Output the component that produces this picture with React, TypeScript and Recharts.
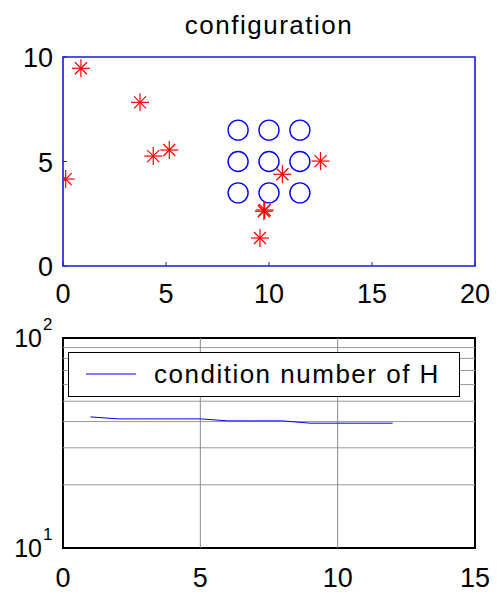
import React from 'react'
import {
  ScatterChart,
  Scatter,
  LineChart,
  Line,
  XAxis,
  YAxis,
  ReferenceArea,
  ReferenceLine,
  Legend,
} from 'recharts'

// configuration: sensors (stars) and grid targets (circles)
const starX = [0.13, 0.87, 3.74, 4.38, 5.16, 12.5, 10.65, 9.75, 9.79, 9.56]
const starY = [4.16, 9.46, 7.83, 5.26, 5.55, 5.02, 4.39, 2.62, 2.68, 1.34]
const circleX = [8.5, 10, 11.5, 8.5, 10, 11.5, 8.5, 10, 11.5]
const circleY = [6.5, 6.5, 6.5, 5, 5, 5, 3.5, 3.5, 3.5]
const topXTicks = [0, 5, 10, 15, 20]
const topYTicks = [0, 5, 10]

// condition number per iteration
const iterations = [1, 2, 3, 4, 5, 6, 7, 8, 9, 10, 11, 12]
const condNumber = [42.1, 41.2, 41.2, 41.2, 41.2, 40.3, 40.3, 40.3, 39.3, 39.3, 39.3, 39.3]
const bottomXTicks = [0, 5, 10, 15]
const bottomYTicks = [10, 100]
const minorY = [20, 30, 40, 50, 60, 70, 80, 90]

const FONT = '"Liberation Sans", Arial, Helvetica, sans-serif'
const BLUE_BOX = '#1a1ad8'

const stars = starX.map((x, i) => ({ x, y: starY[i] }))
const circles = circleX.map((x, i) => ({ x, y: circleY[i] }))
const condData = iterations.map((it, i) => ({ it, cond: condNumber[i] }))

const Star = (p: any) => {
  const { cx, cy } = p
  const r = 9
  const d = 6
  return (
    <g stroke="#ff0000" strokeWidth={1.2}>
      <line x1={cx - r} x2={cx + r} y1={cy} y2={cy} />
      <line x1={cx} x2={cx} y1={cy - r} y2={cy + r} />
      <line x1={cx - d} x2={cx + d} y1={cy - d} y2={cy + d} />
      <line x1={cx - d} x2={cx + d} y1={cy + d} y2={cy - d} />
    </g>
  )
}

const Ring = (p: any) => <circle cx={p.cx} cy={p.cy} r={10} fill="none" stroke="#0000ff" strokeWidth={1.4} />

const TopXTick = (p: any) => (
  <g>
    <line x1={p.x} x2={p.x} y1={p.y} y2={p.y - 4} stroke={BLUE_BOX} />
    <text x={p.x} y={p.y + 37} textAnchor="middle" fontSize={27} fontFamily={FONT} fill="#000">
      {p.payload.value}
    </text>
  </g>
)

const TopYTick = (p: any) => (
  <g>
    <line x1={p.x} x2={p.x + 4} y1={p.y} y2={p.y} stroke={BLUE_BOX} />
    <text x={p.x - 10} y={p.y + 10} textAnchor="end" fontSize={27} fontFamily={FONT} fill="#000">
      {p.payload.value}
    </text>
  </g>
)

const BottomXTick = (p: any) => (
  <text x={p.x} y={p.y + 39} textAnchor="middle" fontSize={27} fontFamily={FONT} fill="#000">
    {p.payload.value}
  </text>
)

const BottomYTick = (p: any) => {
  const exp = Math.round(Math.log10(p.payload.value))
  return (
    <g fontFamily={FONT} fill="#000">
      <text x={p.x - 21} y={p.y + 9} textAnchor="end" fontSize={25}>
        10
      </text>
      <text x={p.x - 20} y={p.y - 8} fontSize={17}>
        {exp}
      </text>
    </g>
  )
}

const LegendBox = (props: any) => {
  const item = props.payload?.[0]
  return (
    <div
      style={{
        width: 392,
        height: 45,
        boxSizing: 'border-box',
        border: '1.5px solid #000',
        background: '#fff',
      }}
    >
      <svg width={390} height={42} style={{ display: 'block' }}>
        <line x1={17} x2={67} y1={21} y2={21} stroke={item?.color ?? '#0000ff'} strokeWidth={1} />
        <text x={85} y={30} fontSize={26} letterSpacing={1.5} fontFamily={FONT} fill="#000">
          {item?.value}
        </text>
      </svg>
    </div>
  )
}

export default function App() {
  return (
    <div style={{ position: 'absolute', left: 0, top: 0, width: 499, height: 597, background: '#fff' }}>
      <svg width={499} height={50} style={{ position: 'absolute', left: 0, top: 0 }}>
        <text x={269} y={34} textAnchor="middle" fontSize={26} letterSpacing={1.5} fontFamily={FONT} fill="#000">
          configuration
        </text>
      </svg>

      <div style={{ position: 'absolute', left: 0, top: 0 }}>
        <ScatterChart width={499} height={318} margin={{ top: 57, right: 24, bottom: 22, left: 13 }}>
          <XAxis
            type="number"
            dataKey="x"
            domain={[0, 20]}
            ticks={topXTicks}
            height={30}
            axisLine={false}
            tickLine={false}
            tickSize={0}
            tickMargin={0}
            tick={TopXTick}
            interval={0}
            allowDataOverflow
          />
          <YAxis
            type="number"
            dataKey="y"
            domain={[0, 10]}
            ticks={topYTicks}
            width={50}
            axisLine={false}
            tickLine={false}
            tickSize={0}
            tickMargin={0}
            tick={TopYTick}
            interval={0}
            allowDataOverflow
          />
          <ReferenceArea x1={0} x2={20} y1={0} y2={10} fill="none" stroke={BLUE_BOX} strokeWidth={1.6} ifOverflow="visible" />
          <Scatter data={circles} shape={Ring} isAnimationActive={false} />
          <Scatter data={stars} shape={Star} isAnimationActive={false} />
        </ScatterChart>
      </div>

      <div style={{ position: 'absolute', left: 0, top: 300 }}>
        <LineChart width={499} height={297} data={condData} margin={{ top: 38, right: 24, bottom: 9, left: 8 }}>
          <XAxis
            type="number"
            dataKey="it"
            domain={[0, 15]}
            ticks={bottomXTicks}
            height={40}
            axisLine={false}
            tickLine={false}
            tickSize={0}
            tickMargin={0}
            tick={BottomXTick}
            interval={0}
            allowDataOverflow
          />
          <YAxis
            type="number"
            scale="log"
            domain={[10, 100]}
            ticks={bottomYTicks}
            width={55}
            axisLine={false}
            tickLine={false}
            tickSize={0}
            tickMargin={0}
            tick={BottomYTick}
            interval={0}
            allowDataOverflow
          />
          {minorY.map((v) => (
            <ReferenceLine key={v} y={v} stroke="#9a9a9a" strokeWidth={1} />
          ))}
          <ReferenceLine x={5} stroke="#8a8a8a" strokeWidth={1} />
          <ReferenceLine x={10} stroke="#8a8a8a" strokeWidth={1} />
          <ReferenceArea x1={0} x2={15} y1={10} y2={100} fill="none" stroke="#000" strokeWidth={2} ifOverflow="visible" />
          <Line
            type="linear"
            dataKey="cond"
            name="condition number of H"
            stroke="#0000ff"
            strokeWidth={1}
            dot={false}
            isAnimationActive={false}
          />
          <Legend
            layout="horizontal"
            verticalAlign="middle"
            align="center"
            content={LegendBox}
            wrapperStyle={{ left: 68, top: 52, width: 392, height: 45 }}
          />
        </LineChart>
      </div>
    </div>
  )
}
